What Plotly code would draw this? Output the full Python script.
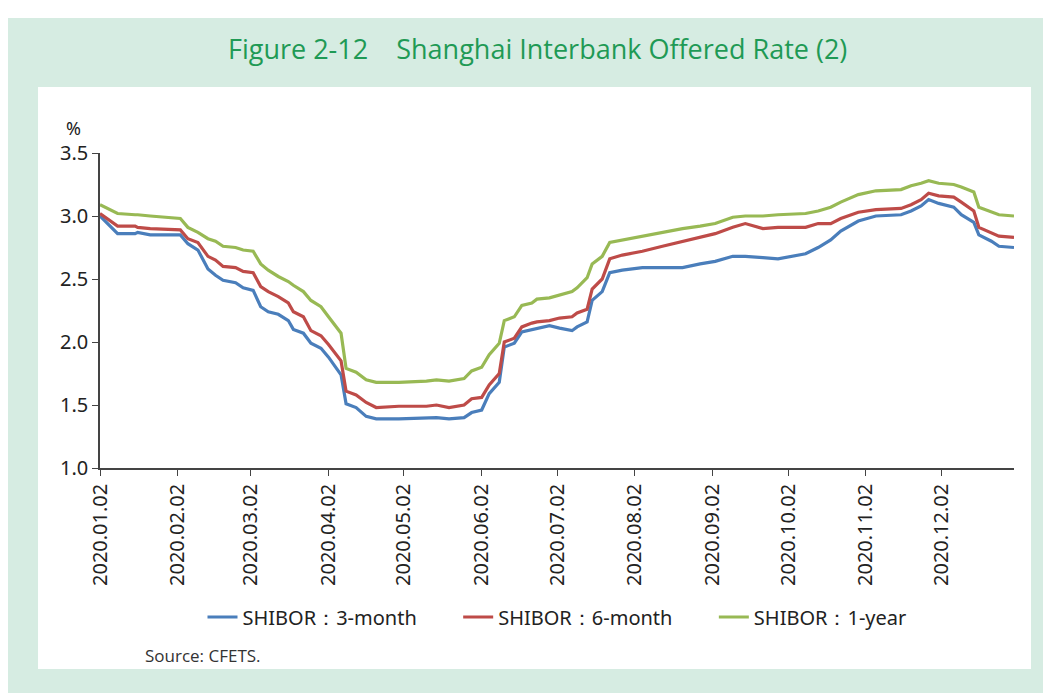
import plotly.graph_objects as go

dates = [
    "2020-01-02", "2020-01-09", "2020-01-16", "2020-01-17", "2020-01-22",
    "2020-02-03", "2020-02-06", "2020-02-10", "2020-02-14", "2020-02-17",
    "2020-02-20", "2020-02-25", "2020-02-28", "2020-03-03", "2020-03-06",
    "2020-03-09", "2020-03-13", "2020-03-17", "2020-03-19", "2020-03-23",
    "2020-03-26", "2020-03-30", "2020-04-02", "2020-04-07", "2020-04-09",
    "2020-04-13", "2020-04-17", "2020-04-21", "2020-04-30", "2020-05-11",
    "2020-05-15", "2020-05-20", "2020-05-26", "2020-05-29", "2020-06-02",
    "2020-06-05", "2020-06-09", "2020-06-11", "2020-06-15", "2020-06-18",
    "2020-06-22", "2020-06-24", "2020-06-29", "2020-07-03", "2020-07-08",
    "2020-07-10", "2020-07-14", "2020-07-16", "2020-07-20", "2020-07-23",
    "2020-07-28", "2020-08-05", "2020-08-13", "2020-08-21", "2020-08-28",
    "2020-09-03", "2020-09-10", "2020-09-15", "2020-09-22", "2020-09-28",
    "2020-10-09", "2020-10-14", "2020-10-19", "2020-10-23", "2020-10-30",
    "2020-11-06", "2020-11-16", "2020-11-20", "2020-11-24", "2020-11-27",
    "2020-12-01", "2020-12-07", "2020-12-10", "2020-12-15", "2020-12-17",
    "2020-12-22", "2020-12-25", "2020-12-31",
]

shibor_3m = [
    3.00, 2.86, 2.86, 2.87, 2.85, 2.85, 2.78, 2.73, 2.58, 2.53,
    2.49, 2.47, 2.43, 2.41, 2.28, 2.24, 2.22, 2.17, 2.10, 2.07,
    1.99, 1.95, 1.88, 1.74, 1.51, 1.48, 1.41, 1.39, 1.39, 1.40,
    1.40, 1.39, 1.40, 1.44, 1.46, 1.59, 1.68, 1.96, 1.99, 2.08,
    2.10, 2.11, 2.13, 2.11, 2.09, 2.12, 2.16, 2.33, 2.40, 2.55,
    2.57, 2.59, 2.59, 2.59, 2.62, 2.64, 2.68, 2.68, 2.67, 2.66,
    2.70, 2.75, 2.81, 2.88, 2.96, 3.00, 3.01, 3.04, 3.08, 3.13,
    3.10, 3.07, 3.01, 2.95, 2.85, 2.80, 2.76, 2.75,
]

shibor_6m = [
    3.02, 2.92, 2.92, 2.91, 2.90, 2.89, 2.82, 2.79, 2.68, 2.65,
    2.60, 2.59, 2.56, 2.55, 2.44, 2.40, 2.36, 2.31, 2.24, 2.20,
    2.09, 2.05, 1.98, 1.85, 1.61, 1.58, 1.52, 1.48, 1.49, 1.49,
    1.50, 1.48, 1.50, 1.55, 1.56, 1.66, 1.75, 2.00, 2.03, 2.12,
    2.15, 2.16, 2.17, 2.19, 2.20, 2.23, 2.26, 2.42, 2.50, 2.66,
    2.69, 2.72, 2.76, 2.80, 2.83, 2.86, 2.91, 2.94, 2.90, 2.91,
    2.91, 2.94, 2.94, 2.98, 3.03, 3.05, 3.06, 3.09, 3.13, 3.18,
    3.16, 3.15, 3.11, 3.04, 2.91, 2.87, 2.84, 2.83,
]

shibor_1y = [
    3.09, 3.02, 3.01, 3.01, 3.00, 2.98, 2.91, 2.87, 2.82, 2.80,
    2.76, 2.75, 2.73, 2.72, 2.62, 2.57, 2.52, 2.48, 2.45, 2.40,
    2.33, 2.28, 2.20, 2.07, 1.79, 1.76, 1.70, 1.68, 1.68, 1.69,
    1.70, 1.69, 1.71, 1.77, 1.80, 1.90, 1.99, 2.17, 2.20, 2.29,
    2.31, 2.34, 2.35, 2.37, 2.40, 2.43, 2.51, 2.62, 2.68, 2.79,
    2.81, 2.84, 2.87, 2.90, 2.92, 2.94, 2.99, 3.00, 3.00, 3.01,
    3.02, 3.04, 3.07, 3.11, 3.17, 3.20, 3.21, 3.24, 3.26, 3.28,
    3.26, 3.25, 3.23, 3.19, 3.07, 3.03, 3.01, 3.00,
]

tick_dates = [
    "2020-01-02", "2020-02-02", "2020-03-02", "2020-04-02", "2020-05-02",
    "2020-06-02", "2020-07-02", "2020-08-02", "2020-09-02", "2020-10-02",
    "2020-11-02", "2020-12-02",
]
tick_labels = [d.replace("-", ".") for d in tick_dates]

gap = "\u00a0" * 7
series = [
    ("SHIBOR：3-month" + gap, shibor_3m, "#4a7ebb"),
    ("SHIBOR：6-month" + gap, shibor_6m, "#be4b48"),
    ("SHIBOR：1-year", shibor_1y, "#98b954"),
]

fig = go.Figure()
for name, values, color in series:
    fig.add_trace(go.Scatter(
        x=dates, y=values, name=name, mode="lines",
        line=dict(color=color, width=3.2),
    ))

green_bg = "#d6ece2"
font_main = "Noto Sans"

fig.update_layout(
    width=1051, height=693,
    margin=dict(l=92, r=45, t=145, b=233),
    paper_bgcolor=green_bg,
    plot_bgcolor="white",
    font=dict(family=font_main, color="#222222", size=20),
    showlegend=True,
    legend=dict(
        orientation="h", x=0.5, xanchor="center", y=-0.473, yanchor="middle",
        font=dict(size=20, color="#222222"), bgcolor="rgba(0,0,0,0)",
    ),
    shapes=[
        # white panel
        dict(type="rect", xref="paper", yref="paper", layer="below",
             x0=-0.0678, x1=1.0186, y0=-0.638, y1=1.2095,
             fillcolor="white", line=dict(width=0)),
        # thin white band along the top edge
        dict(type="rect", xref="paper", yref="paper", layer="below",
             x0=-0.2, x1=1.2, y0=1.4286, y1=1.6,
             fillcolor="white", line=dict(width=0)),
    ],
    annotations=[
        dict(text="Figure 2-12\u00a0\u00a0\u00a0\u00a0Shanghai Interbank Offered Rate (2)",
             xref="paper", yref="paper", x=0.479, y=1.333,
             xanchor="center", yanchor="middle", showarrow=False,
             font=dict(family="Open Sans", size=27, color="#1f9a55")),
        dict(text="%", xref="paper", yref="paper", x=-0.0295, y=1.079,
             xanchor="center", yanchor="middle", showarrow=False,
             font=dict(size=18, color="#222222")),
        dict(text="Source: CFETS.", xref="paper", yref="paper", x=0.047, y=-0.594,
             xanchor="left", yanchor="middle", showarrow=False,
             font=dict(family="Open Sans", size=17, color="#333333")),
    ],
)

fig.update_xaxes(
    type="date", range=["2020-01-02", "2020-12-31"],
    tickmode="array", tickvals=tick_dates, ticktext=tick_labels,
    tickangle=-90, ticks="outside", ticklen=6, tickcolor="#444444",
    showline=True, linecolor="#444444", linewidth=1.5,
    showgrid=False, zeroline=False, tickfont=dict(size=20),
)
fig.update_yaxes(
    range=[1.0, 3.5], dtick=0.5, tickformat=".1f",
    ticks="outside", ticklen=6, tickcolor="#444444",
    showline=True, linecolor="#444444", linewidth=1.5,
    showgrid=False, zeroline=False, tickfont=dict(size=20),
)

fig.write_html("out.html")
